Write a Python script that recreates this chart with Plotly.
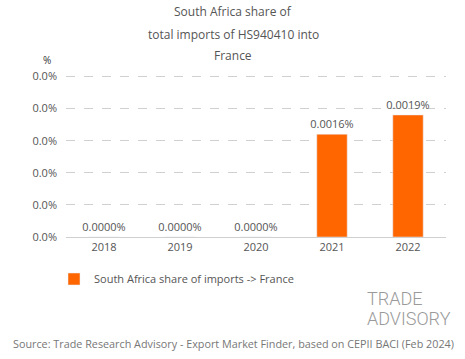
import plotly.graph_objects as go

years = ["2018", "2019", "2020", "2021", "2022"]
share_pct = [0.0, 0.0, 0.0, 0.0016, 0.0019]
bar_labels = ["0.0000%", "0.0000%", "0.0000%", "0.0016%", "0.0019%"]
tick_vals = [0, 0.0005, 0.001, 0.0015, 0.002, 0.0025]
tick_text = ["0.0%"] * 6
title_lines = ["South Africa share of", "total imports of HS940410 into", "France"]
source_text = "Source: Trade Research Advisory - Export Market Finder, based on CEPII BACI (Feb 2024)"

FONT = "Open Sans"
GRAY = "#555555"
ORANGE = "#FF6600"

W, H = 465, 359
L, R, T, B = 66, 19, 70, 122
PW, PH = W - L - R, H - T - B


def px(x):
    return (x - L) / PW


def py(y):
    return 1 - (y - T) / PH


def ann(text, x, y, size, color=GRAY, family=FONT, xanchor="center", weight=None):
    f = dict(family=family, size=size, color=color)
    if weight:
        f["weight"] = weight
    return dict(text=text, x=px(x), y=py(y), xref="paper", yref="paper",
                showarrow=False, xanchor=xanchor, yanchor="middle", font=f)


fig = go.Figure()
fig.add_trace(go.Bar(
    x=years, y=share_pct, text=bar_labels, textposition="outside",
    cliponaxis=False, constraintext="none",
    textfont=dict(family=FONT, size=11, color=GRAY),
    marker=dict(color=ORANGE),
    name="South Africa share of imports -> France",
    showlegend=True,
))

annotations = [ann(t, 233, y, 12) for t, y in zip(title_lines, [12, 34, 55])]
annotations += [
    ann("%", 47, 60, 10, color="#333333"),
    ann("TRADE", 365, 298, 18, color="#9a9a9a", family="Roboto", xanchor="left", weight=300),
    ann("ADVISORY", 365, 318, 18, color="#9a9a9a", family="Roboto", xanchor="left", weight=300),
    ann(source_text, 233, 343, 10.8, color="#777777"),
]

fig.update_layout(
    width=W, height=H,
    margin=dict(l=L, r=R, t=T, b=B, autoexpand=False),
    paper_bgcolor="white", plot_bgcolor="white",
    font=dict(family=FONT, color=GRAY, size=11),
    bargap=0.6,
    xaxis=dict(
        type="category", showgrid=False, showline=True, linecolor="#d0d0d0",
        linewidth=1, ticks="", tickfont=dict(size=11, color=GRAY),
    ),
    yaxis=dict(
        range=[0, 0.0026], tickvals=tick_vals, ticktext=tick_text,
        showgrid=True, gridcolor="#d0d0d0", griddash="dash", gridwidth=1,
        zeroline=False, showline=False, ticks="", ticklabelstandoff=8,
        tickfont=dict(size=11, color=GRAY),
    ),
    legend=dict(
        orientation="h", x=px(54), xanchor="left", y=py(279), yanchor="middle",
        font=dict(size=11, color=GRAY), itemwidth=30,
    ),
    annotations=annotations,
)

fig.write_html("out.html", config={"displayModeBar": False},
               post_script="document.body.style.margin='0';")
